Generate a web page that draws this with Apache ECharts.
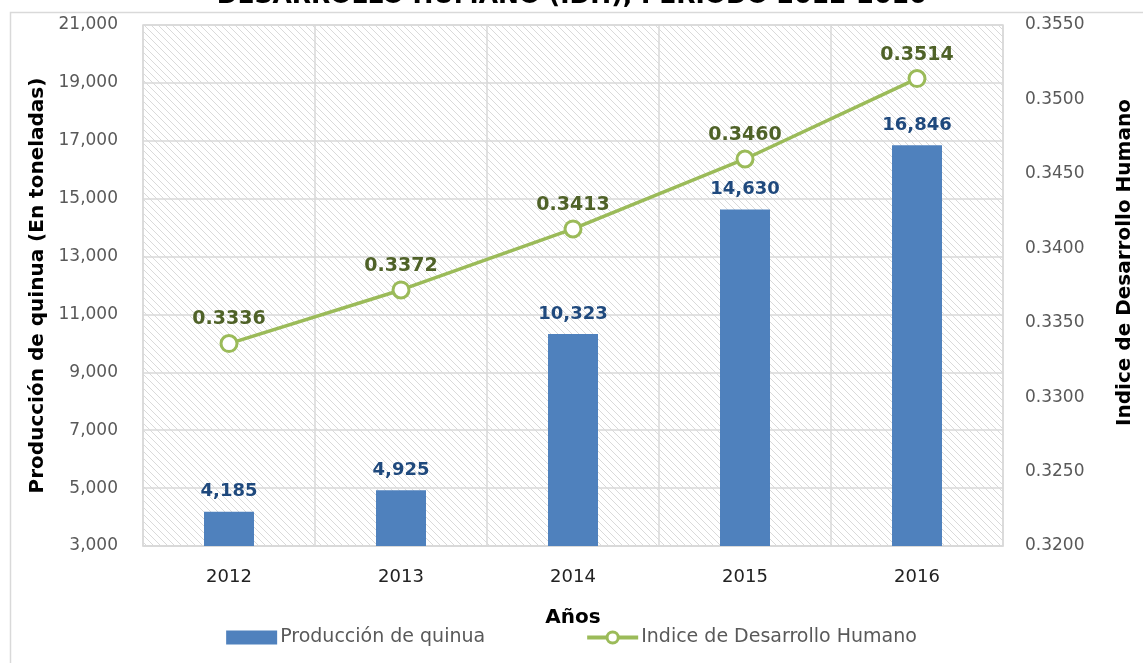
<!DOCTYPE html>
<html>
<head>
<meta charset="utf-8">
<script src="https://cdn.jsdelivr.net/npm/echarts@6/dist/echarts.min.js"></script>
<style>
    html, body { margin: 0; padding: 0; background: #fff; }
    #chart { width: 1143px; height: 663px; }
</style>
</head>
<body>
<div id="chart"></div>
<script>
// datos del gráfico
const years = ['2012', '2013', '2014', '2015', '2016']
const produccion = [4185, 4925, 10323, 14630, 16846]
const idh = [0.3336, 0.3372, 0.3413, 0.3460, 0.3514]

const font = 'DejaVu Sans'

// fondo rayado del área de trazado
const makeHatch = () => {
    const n = 7
    const c = document.createElement('canvas')
    c.width = n
    c.height = n
    const ctx = c.getContext('2d')
    ctx.fillStyle = '#ffffff'
    ctx.fillRect(0, 0, n, n)
    ctx.strokeStyle = '#dadada'
    ctx.lineWidth = 1
    for (const off of [-n, 0, n]) {
        ctx.beginPath()
        ctx.moveTo(off - 1, -1)
        ctx.lineTo(off + n + 1, n + 1)
        ctx.stroke()
    }
    return c
}

var myChart = echarts.init(document.getElementById('chart'))

var option = {
    backgroundColor: '#fff',
    textStyle: { fontFamily: font },
    animation: false,
    title: {
        text: 'DESARROLLO HUMANO (IDH), PERIODO 2012-2016',
        left: 'center',
        top: -21,
        textStyle: { fontFamily: font, fontSize: 25, fontWeight: 'bold', color: '#000' }
    },
    graphic: [{
        type: 'rect',
        left: 8, top: 10,
        shape: { width: 1300, height: 800 },
        style: { fill: 'none', stroke: '#d9d9d9', lineWidth: 1.5 },
        silent: true
    }],
    legend: {
        bottom: 11,
        left: 'center',
        itemWidth: 51,
        itemHeight: 14,
        itemGap: 100,
        textStyle: { fontFamily: font, fontSize: 19, color: '#595959', padding: [0, 0, 0, -2] },
        data: [
            { name: 'Producción de quinua', icon: 'rect' },
            {
                name: 'Indice de Desarrollo Humano',
                lineStyle: { width: 4 },
                itemStyle: { borderWidth: 3 }
            }
        ]
    },
    grid: {
        left: 143, right: 139, top: 25, bottom: 117,
        show: true,
        backgroundColor: { image: makeHatch(), repeat: 'repeat' },
        borderColor: '#d9d9d9',
        borderWidth: 1.5
    },
    xAxis: {
        type: 'category',
        data: years,
        name: 'Años',
        nameLocation: 'middle',
        nameGap: 62,
        nameTextStyle: { fontFamily: font, fontSize: 20, fontWeight: 'bold', color: '#000' },
        axisLine: { lineStyle: { color: '#d9d9d9', width: 1.5 } },
        axisTick: { show: false },
        axisLabel: { fontSize: 18, color: '#222', margin: 22 },
        splitLine: { show: true, lineStyle: { color: '#d9d9d9', width: 1.5 } }
    },
    yAxis: [{
        type: 'value',
        min: 3000, max: 21000, interval: 2000,
        name: 'Producción de quinua (En toneladas)',
        nameLocation: 'middle',
        nameRotate: 90,
        nameGap: 95,
        nameTextStyle: { fontFamily: font, fontSize: 20, fontWeight: 'bold', color: '#000' },
        axisLine: { show: false },
        axisTick: { show: false },
        axisLabel: {
            fontSize: 17, color: '#595959', margin: 25,
            formatter: v => v.toLocaleString('en-US')
        },
        splitLine: { lineStyle: { color: '#d9d9d9', width: 1.5 } }
    }, {
        type: 'value',
        min: 0.32, max: 0.355, interval: 0.005,
        name: 'Indice de Desarrollo Humano',
        nameLocation: 'middle',
        nameRotate: 90,
        nameGap: 112,
        nameTextStyle: {
            fontFamily: font, fontSize: 20, fontWeight: 'bold', color: '#000',
            padding: [0, 0, 0, 46]
        },
        axisLine: { show: false },
        axisTick: { show: false },
        axisLabel: {
            fontSize: 17, color: '#595959', margin: 22,
            formatter: v => v.toFixed(4)
        },
        splitLine: { show: false }
    }],
    series: [{
        name: 'Producción de quinua',
        type: 'bar',
        data: produccion,
        barWidth: 50,
        itemStyle: { color: '#4f81bd' },
        label: {
            show: true,
            position: 'top',
            distance: 11,
            fontFamily: font,
            fontSize: 18,
            fontWeight: 'bold',
            color: '#1f497d',
            formatter: p => p.value.toLocaleString('en-US')
        }
    }, {
        name: 'Indice de Desarrollo Humano',
        type: 'line',
        yAxisIndex: 1,
        data: idh,
        symbol: 'circle',
        symbolSize: 16,
        lineStyle: { color: '#9bbb59', width: 3.5 },
        itemStyle: { color: '#fff', borderColor: '#9bbb59', borderWidth: 3 },
        label: {
            show: true,
            position: 'top',
            distance: 5,
            fontFamily: font,
            fontSize: 19,
            fontWeight: 'bold',
            color: '#4f6228',
            formatter: p => p.value.toFixed(4)
        },
        z: 3
    }]
}

myChart.setOption(option)
</script>
</body>
</html>
